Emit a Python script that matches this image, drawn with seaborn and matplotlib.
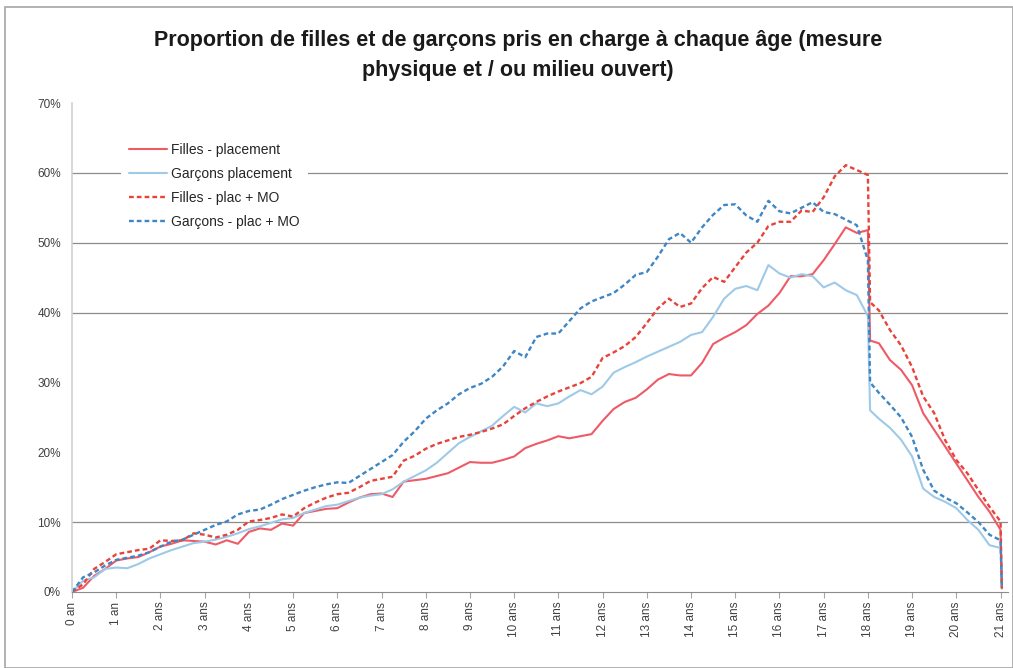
import numpy as np
import pandas as pd
import matplotlib
matplotlib.use("Agg")
import matplotlib.pyplot as plt
from matplotlib.patches import Rectangle
from matplotlib.ticker import FuncFormatter
import seaborn as sns

# ages (years): quarter steps, plus the sharp drops at 18 and 21
ages = np.concatenate([np.arange(0, 18.01, 0.25), [18.05],
                       np.arange(18.25, 21.01, 0.25), [21.03]])

filles_plac = [0, 0.6, 2.3, 3.3, 4.5, 4.8, 5.0, 5.7, 6.5, 6.9, 7.4, 7.3,
               7.2, 6.8, 7.4, 6.9, 8.6, 9.1, 8.9, 9.8, 9.5, 11.3, 11.6, 11.9,
               12.0, 12.8, 13.5, 14.0, 14.1, 13.6, 15.8, 16.0, 16.2, 16.6, 17.0, 17.8,
               18.6, 18.5, 18.5, 18.9, 19.4, 20.6, 21.2, 21.7, 22.3, 22.0, 22.3, 22.6,
               24.5, 26.2, 27.2, 27.8, 29.0, 30.4, 31.2, 31.0, 31.0, 32.8, 35.5, 36.4,
               37.2, 38.2, 39.8, 41.0, 42.8, 45.2, 45.2, 45.5, 47.5, 49.8, 52.2, 51.4,
               51.8, 36.0, 35.6, 33.2, 31.8, 29.6, 25.6, 23.2, 20.8,
               18.4, 16.0, 13.6, 11.5, 8.9, 0.5]

garcons_plac = [0, 1.6, 2.1, 3.3, 3.5, 3.4, 4.0, 4.8, 5.4, 6.0, 6.5, 7.0,
                7.2, 7.5, 7.9, 8.4, 9.0, 9.4, 9.9, 10.4, 10.6, 11.3, 11.8, 12.3,
                12.5, 13.0, 13.5, 13.8, 14.0, 14.7, 15.8, 16.6, 17.4, 18.5, 19.9, 21.3,
                22.2, 23.0, 23.8, 25.2, 26.5, 25.7, 27.0, 26.6, 27.0, 28.0, 28.9, 28.3,
                29.4, 31.4, 32.2, 32.9, 33.7, 34.4, 35.1, 35.8, 36.8, 37.2, 39.4, 42.0,
                43.4, 43.8, 43.2, 46.8, 45.6, 45.0, 45.5, 45.2, 43.6, 44.3, 43.2, 42.5,
                39.5, 26.0, 24.8, 23.5, 21.8, 19.4, 14.8, 13.6, 12.9,
                12.0, 10.3, 8.9, 6.7, 6.3, 0.5]

filles_mo = [0, 1.1, 3.3, 4.3, 5.4, 5.7, 6.0, 6.2, 7.4, 7.3, 7.4, 8.4,
             8.2, 7.8, 8.2, 8.9, 10.1, 10.3, 10.6, 11.1, 10.8, 12.0, 12.8, 13.5,
             14.0, 14.2, 15.0, 15.9, 16.2, 16.5, 18.8, 19.5, 20.5, 21.2, 21.7, 22.2,
             22.5, 22.9, 23.4, 24.0, 25.2, 26.3, 27.2, 28.0, 28.7, 29.3, 29.9, 30.8,
             33.5, 34.3, 35.2, 36.5, 38.5, 40.6, 42.0, 40.8, 41.3, 43.5, 45.1, 44.4,
             46.5, 48.6, 50.0, 52.4, 53.0, 53.0, 54.6, 54.4, 56.5, 59.5, 61.1, 60.4,
             59.7, 41.5, 40.3, 37.5, 35.3, 32.2, 28.0, 25.6, 21.7,
             18.9, 17.0, 14.6, 12.2, 10.1, 0.5]

garcons_mo = [0, 2.1, 2.8, 3.8, 4.6, 4.9, 5.2, 5.7, 6.5, 7.2, 7.5, 8.2,
              8.9, 9.6, 10.1, 11.1, 11.6, 11.8, 12.5, 13.3, 13.9, 14.5, 15.0, 15.4,
              15.7, 15.6, 16.6, 17.6, 18.6, 19.6, 21.5, 23.0, 24.8, 26.0, 27.0, 28.3,
              29.2, 29.8, 30.8, 32.3, 34.5, 33.6, 36.5, 37.0, 37.0, 38.8, 40.6, 41.6,
              42.2, 42.8, 44.0, 45.4, 45.8, 48.0, 50.5, 51.4, 50.0, 52.2, 54.0, 55.4,
              55.5, 53.9, 53.0, 56.0, 54.5, 54.2, 55.0, 55.8, 54.4, 54.1, 53.3, 52.5,
              47.5, 30.0, 28.5, 26.8, 25.0, 22.2, 17.5, 14.5, 13.5,
              12.7, 11.4, 10.0, 8.2, 7.4, 0.8]

year_labels = ["0 an", "1 an"] + ["%d ans" % a for a in range(2, 22)]
y_ticks = [0, 10, 20, 30, 40, 50, 60, 70]
grid_levels = [10, 40, 50, 60]

sns.set_style("white")
plt.rcParams["font.family"] = ["Liberation Sans Narrow", "Liberation Sans", "DejaVu Sans"]

fig = plt.figure(figsize=(10.13, 6.68), dpi=100)
ax = fig.add_axes([0.0711, 0.1138, 0.924, 0.7320])

series = [
    ("Filles - placement", filles_plac, "#EE5A66", "", 1.5),
    ("Garçons placement", garcons_plac, "#9ECAE8", "", 1.5),
    ("Filles - plac + MO", filles_mo, "#E8433A", (2, 1.3), 1.7),
    ("Garçons - plac + MO", garcons_mo, "#3F86C4", (2, 1.3), 1.7),
]

for lvl in grid_levels:
    ax.axhline(lvl, color="#8C8C8C", lw=0.9, zorder=0)

for name, vals, col, dash, lw in series:
    df = pd.DataFrame({"age": ages, "pct": vals})
    sns.lineplot(data=df, x="age", y="pct", ax=ax, color=col, lw=lw,
                 label=name, estimator=None, sort=False)
    line = ax.lines[-1]
    if dash:
        line.set_dashes(dash)

ax.set_xlim(0, 21.17)
ax.set_ylim(0, 70)
ax.set_xticks(range(22))
ax.set_xticklabels(year_labels, rotation=90, fontsize=8.5, color="#404040")
ax.set_yticks(y_ticks)
ax.yaxis.set_major_formatter(FuncFormatter(lambda v, p: "%d%%" % v))
ax.tick_params(axis="y", length=0, labelsize=8.5, labelcolor="#404040", pad=8)
ax.tick_params(axis="x", length=4, color="#A6A6A6", bottom=True, pad=3)
ax.set_xlabel("")
ax.set_ylabel("")
for s in ["top", "right"]:
    ax.spines[s].set_visible(False)
ax.spines["left"].set_color("#D0D0D0")
ax.spines["left"].set_linewidth(1.2)
ax.spines["bottom"].set_color("#8C8C8C")

leg = ax.legend(loc="upper left", bbox_to_anchor=(0.045, 0.95), frameon=True,
                fontsize=10, handlelength=2.7, handletextpad=0.3, labelspacing=0.72,
                borderpad=0.6, fancybox=False)
leg.get_frame().set_edgecolor("none")
leg.get_frame().set_facecolor("white")
leg.get_frame().set_alpha(1)

fig.text(0.511, 0.955, "Proportion de filles et de garçons pris en charge à chaque âge (mesure\nphysique et / ou milieu ouvert)",
         ha="center", va="top", fontsize=15.5, fontweight="bold", linespacing=1.55,
         color="#1A1A1A")

fig.patches.append(Rectangle((0.005, 0.0), 0.995, 0.99, transform=fig.transFigure,
                             fill=False, edgecolor="#A6A6A6", lw=1.2))

fig.savefig("out.png", dpi=100)
